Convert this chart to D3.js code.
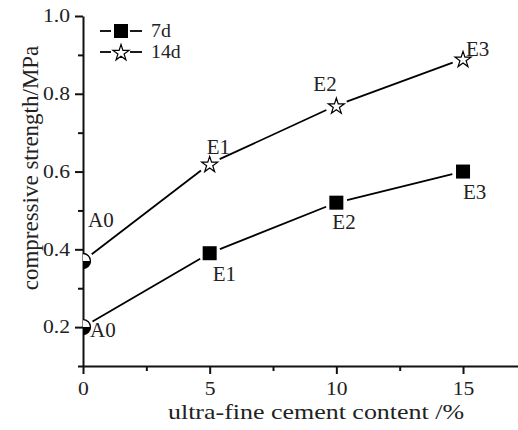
<!DOCTYPE html>
<html>
<head>
<meta charset="utf-8">
<script src="https://cdn.jsdelivr.net/npm/d3@7"></script>
<style>
  body { margin: 0; background: #fff; }
  text { font-family: "Liberation Serif", "DejaVu Serif", serif; fill: #222; }
</style>
</head>
<body>
<div class="chart"></div>
<script>
// Data
var contentValues = [0, 5, 10, 15];
var pointLabels = ["A0", "E1", "E2", "E3"];
var strength7d = [0.20, 0.39, 0.52, 0.60];
var strength14d = [0.37, 0.62, 0.77, 0.89];
var seriesNames = ["7d", "14d"];
var xTickValues = [0, 5, 10, 15];
var xMinorTicks = [2.5, 7.5, 12.5];
var yTickValues = [0.2, 0.4, 0.6, 0.8, 1.0];
var yMinorTicks = [0.1, 0.3, 0.5, 0.7, 0.9];

// label placement next to each point (dx to text start, dy to baseline)
var labelOffsets = {
  "7d": [[7, 10], [3, 28], [-4, 26], [0, 27]],
  "14d": [[5, -34], [-3, -10], [-23, -14], [3, -3]]
};

var svgWidth = 518;
var svgHeight = 430;
var sx = 1.2; // horizontal text stretch seen in the picture

var svg = d3.select(".chart")
  .append("svg")
  .attr("width", svgWidth)
  .attr("height", svgHeight);

// scales
var xScale = d3.scaleLinear().domain([0, 17.17]).range([83, 518]);
var yScale = d3.scaleLinear().domain([0.1, 1.0]).range([366, 16]);

svg.append("clipPath").attr("id", "plotClip")
  .append("rect")
  .attr("x", 83).attr("y", 0)
  .attr("width", 435).attr("height", 380);

// minor ticks
svg.append("g")
  .attr("transform", "translate(0,366)")
  .call(d3.axisBottom(xScale).tickValues(xMinorTicks).tickSize(5).tickFormat(""))
  .call(g => g.select(".domain").remove());
svg.append("g")
  .attr("transform", "translate(83,0)")
  .call(d3.axisLeft(yScale).tickValues(yMinorTicks).tickSize(5).tickFormat(""))
  .call(g => g.select(".domain").remove());

// x axis
var xAxis = svg.append("g")
  .attr("transform", "translate(0,366)")
  .call(d3.axisBottom(xScale).tickValues(xTickValues).tickSize(8).tickSizeOuter(0).tickPadding(8));
xAxis.selectAll("text")
  .attr("transform", `scale(${sx},1)`);

// y axis
var yAxis = svg.append("g")
  .attr("transform", "translate(83,0)")
  .call(d3.axisLeft(yScale).tickValues(yTickValues).tickSize(8).tickSizeOuter(0).tickPadding(5)
    .tickFormat(d3.format(".1f")));
yAxis.selectAll("text")
  .attr("x", -13 / sx)
  .attr("transform", `scale(${sx},1)`);

svg.selectAll(".domain, .tick line")
  .attr("stroke", "#111")
  .attr("stroke-width", 2);
svg.selectAll(".tick text")
  .style("font-family", "Liberation Serif")
  .style("font-size", "18px")
  .attr("fill", "#222");

// axis titles
svg.append("text")
  .attr("transform", `translate(316,419) scale(1.18,1)`)
  .attr("text-anchor", "middle")
  .style("font-size", "22px")
  .text("ultra-fine cement content /%");

svg.append("text")
  .attr("transform", "translate(38,168) rotate(-90)")
  .attr("text-anchor", "middle")
  .style("font-size", "23px")
  .text("compressive strength/MPa");

// markers
var star = d3.symbol().type(d3.symbolStar).size(80);

function drawSquare(g, x, y) {
  g.append("rect")
    .attr("x", x - 7).attr("y", y - 7)
    .attr("width", 14).attr("height", 14)
    .attr("fill", "#000");
}

function drawStar(g, x, y) {
  g.append("path")
    .attr("d", star())
    .attr("transform", `translate(${x},${y + 1})`)
    .attr("fill", "#fff")
    .attr("stroke", "#000")
    .attr("stroke-width", 1.2);
}

function drawHalfCircle(g, x, y) {
  var r = 7.5;
  var m = g.append("g")
    .attr("clip-path", "url(#plotClip)")
    .append("g")
    .attr("transform", `translate(${x},${y})`);
  m.append("circle").attr("r", r).attr("fill", "#fff").attr("stroke", "#000").attr("stroke-width", 1.3);
  m.append("path")
    .attr("d", `M${-r},0 A${r},${r} 0 0 0 ${r},0 Z`)
    .attr("fill", "#000");
}

// line segments with a gap around each marker
function drawSeries(values, name, marker) {
  var g = svg.append("g");
  var pts = contentValues.map((c, i) => [xScale(c), yScale(values[i])]);
  var gap = 11;
  for (var i = 0; i < pts.length - 1; i++) {
    var a = pts[i], b = pts[i + 1];
    var dx = b[0] - a[0], dy = b[1] - a[1];
    var len = Math.sqrt(dx * dx + dy * dy);
    var ux = dx / len, uy = dy / len;
    g.append("line")
      .attr("x1", a[0] + ux * gap).attr("y1", a[1] + uy * gap)
      .attr("x2", b[0] - ux * gap).attr("y2", b[1] - uy * gap)
      .attr("stroke", "#000")
      .attr("stroke-width", 1.8);
  }
  pts.forEach(function(p, i) {
    if (i === 0) drawHalfCircle(g, p[0], p[1]);
    else marker(g, p[0], p[1]);
    var off = labelOffsets[name][i];
    g.append("text")
      .attr("transform", `translate(${p[0] + off[0]},${p[1] + off[1]}) scale(1.05,1)`)
      .style("font-size", "20px")
      .text(pointLabels[i]);
  });
}

drawSeries(strength7d, seriesNames[0], drawSquare);
drawSeries(strength14d, seriesNames[1], drawStar);

// legend
var legend = svg.append("g");
var legendMarkers = [drawSquare, drawStar];
seriesNames.forEach(function(name, i) {
  var ly = 31 + i * 21;
  legend.append("line").attr("x1", 100).attr("x2", 111).attr("y1", ly).attr("y2", ly)
    .attr("stroke", "#000").attr("stroke-width", 1.8);
  legend.append("line").attr("x1", 130).attr("x2", 142).attr("y1", ly).attr("y2", ly)
    .attr("stroke", "#000").attr("stroke-width", 1.8);
  legendMarkers[i](legend, 121, ly);
  legend.append("text")
    .attr("transform", `translate(151,${ly + 6}) scale(1.1,1)`)
    .style("font-size", "18px")
    .text(name);
});
</script>
</body>
</html>
